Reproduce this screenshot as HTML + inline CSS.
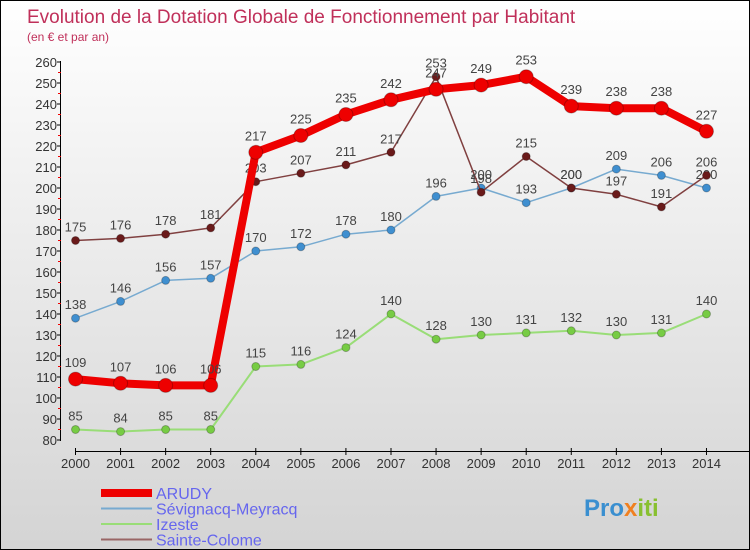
<!DOCTYPE html>
<html><head><meta charset="utf-8"><style>
body{margin:0}
#c{width:748px;height:548px;border:1px solid #000;background:linear-gradient(#fff,#f2f2f2 30%,#d4d4d4);position:relative;font-family:"Liberation Sans","DejaVu Sans",sans-serif;overflow:hidden}
</style></head><body>
<div id="c">
<svg id="s" width="748" height="548"></svg>
</div>
<script>
const years=[2000,2001,2002,2003,2004,2005,2006,2007,2008,2009,2010,2011,2012,2013,2014];
const arudy=[109,107,106,106,217,225,235,242,247,249,253,239,238,238,227];
const sevignacq=[138,146,156,157,170,172,178,180,196,200,193,200,209,206,200];
const izeste=[85,84,85,85,115,116,124,140,128,130,131,132,130,131,140];
const colome=[175,176,178,181,203,207,211,217,253,198,215,200,197,191,206];
const yTicks=[80,90,100,110,120,130,140,150,160,170,180,190,200,210,220,230,240,250,260];
const NS="http://www.w3.org/2000/svg";
const s=document.getElementById('s');
const X=i=>74.5+i*45.07, Y=v=>439-(v-80)*(378/180);
function el(t,a,p){const e=document.createElementNS(NS,t);for(const k in a)e.setAttribute(k,a[k]);(p||s).appendChild(e);return e;}
function tx(x,y,str,a){const e=el('text',Object.assign({x:x,y:y},a));e.textContent=str;return e;}
let t=tx(26,22,'Evolution de la Dotation Globale de Fonctionnement par Habitant',{fill:'#c0305a','font-size':19});

t=tx(26,40,'(en € et par an)',{fill:'#c0305a','font-size':12});

let a=el('line',{x1:59.5,y1:60,x2:59.5,y2:440,stroke:'#000'});

yTicks.forEach(v=>{const y=Y(v);el('line',{x1:56,x2:60,y1:y,y2:y,stroke:'#000'});
if(v<260)el('line',{x1:57,x2:60,y1:y-10.5,y2:y-10.5,stroke:'#e00'});
const l=tx(56,y+5,v,{'text-anchor':'end','font-size':13,fill:'#333'});
});
a=el('line',{x1:74,y1:450.5,x2:748,y2:450.5,stroke:'#000'});

years.forEach((yr,i)=>{const x=X(i);el('line',{x1:x,x2:x,y1:447,y2:454,stroke:'#000'});
const l=tx(x,467,yr,{'text-anchor':'middle','font-size':13,fill:'#333'});
});
function series(d,col,w,r,dot,name){const g=el('g',{});

el('polyline',{points:d.map((v,i)=>X(i)+','+Y(v)).join(' '),fill:'none',stroke:col,'stroke-width':w,'stroke-linejoin':'round'},g);
d.forEach((v,i)=>{const c=el('circle',{cx:X(i),cy:Y(v),r:r,fill:dot,stroke:'rgba(0,0,0,0.25)'},g);

const l=tx(X(i),Y(v)-9-(r-4),v,{'text-anchor':'middle','font-size':13,fill:'#444'});g.appendChild(l);
});}
series(izeste,'#99dd77',2,4,'#77cc44','izeste');
series(sevignacq,'#77aad0',1.5,4,'#3f8fd0','sevignacq');
series(colome,'#804040',1.5,4,'#6a1a1a','sainte-colome');
series(arudy,'#ee0000',8,7,'#ee0000','arudy');
const leg=[['ARUDY','#ee0000',8],['Sévignacq-Meyracq','#77aad0',2],['Izeste','#99dd77',2],['Sainte-Colome','#996666',2]];
leg.forEach((e,i)=>{const y=492+i*15.5;const g=el('g',{});

el('line',{x1:100,x2:151,y1:y,y2:y,stroke:e[1],'stroke-width':e[2]},g);
const l=tx(155,y+6,e[0],{'font-size':16,fill:'#6666ee'});g.appendChild(l);});
t=el('text',{x:583,y:515,'font-size':24,'font-weight':'bold'});

[['Pro','#3a8fd0'],['x','#f08020'],['iti','#88c030']].forEach(p=>{const sp=el('tspan',{fill:p[1]},t);sp.textContent=p[0];});
</script>
</body></html>
